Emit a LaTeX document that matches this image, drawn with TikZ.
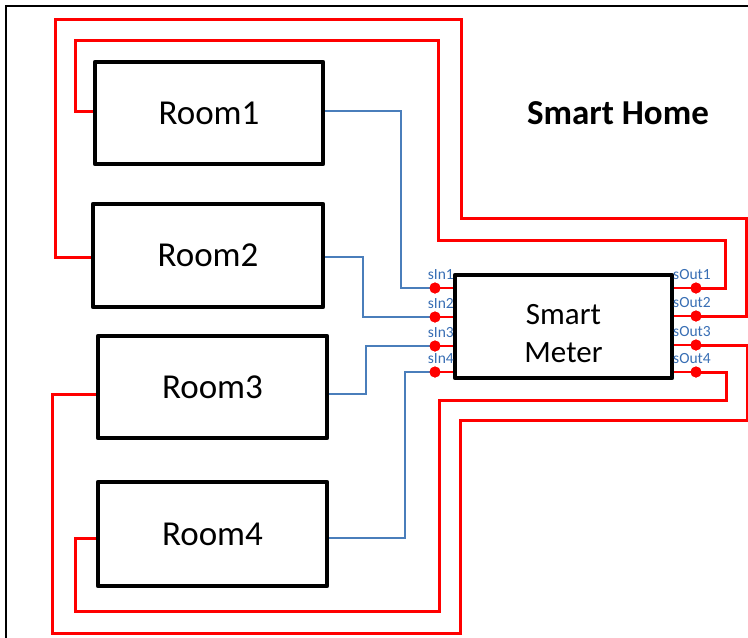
\documentclass[tikz,border=0pt]{standalone}
\usepackage{fontspec}
\setmainfont{Carlito}
\definecolor{wirered}{RGB}{255,0,0}
\definecolor{wireblue}{RGB}{74,126,187}
\definecolor{lblblue}{RGB}{56,110,180}
\begin{document}
\begin{tikzpicture}[x=1pt,y=-1pt,
  roombox/.style={draw=black, line width=4.6pt, fill=white, line join=round,
    minimum width=229pt, minimum height=102pt, inner sep=0pt,
    font=\fontsize{35}{40}\selectfont},
  meterbox/.style={draw=black, line width=4.6pt, fill=white, line join=round,
    minimum width=217pt, minimum height=103pt, inner sep=0pt},
  redw/.style={draw=wirered, line width=3pt},
  bluew/.style={draw=wireblue, line width=2.4pt},
  stub/.style={draw=wirered, line width=1.8pt},
  port/.style={circle, fill=wirered, inner sep=0pt, minimum size=11pt},
  portlbl/.style={text=lblblue, inner sep=0pt, font=\fontsize{15.5}{17}\selectfont},
]
\useasboundingbox (0,0) rectangle (748,638);
\begin{scope}
  \clip (0,0) rectangle (748,638);
  % house outline
  \draw[line width=2.4pt] (6,6) rectangle (800,700);
\end{scope}

% rooms
\node[roombox, minimum width=228pt] (r1) at (209,113) {Room1};
\node[roombox, minimum width=230pt, minimum height=103pt] (r2) at (208,255.5) {Room2};
\node[roombox] (r3) at (212.5,387) {Room3};
\node[roombox, minimum height=104pt] (r4) at (212.5,534) {Room4};

% meter and its ports
\node[meterbox] (meter) at (563.5,326.5) {};
\node[align=center, font=\fontsize{31}{38}\selectfont] (metertext) at (563.5,333.5) {Smart\\Meter};
\node[port] (i1) at (435,288) {};
\node[port] (i2) at (435,317) {};
\node[port] (i3) at (435,346) {};
\node[port] (i4) at (435,372) {};
\node[port] (o1) at (696,288) {};
\node[port] (o2) at (696,316) {};
\node[port] (o3) at (696,345) {};
\node[port] (o4) at (696,372) {};

% port stubs
\foreach \p in {i1,i2,i3,i4}
  \draw[stub] (\p.center) -- (\p.center -| meter.west);
\foreach \p in {o1,o2,o3,o4}
  \draw[stub] (meter.east |- \p.center) -- (\p.center);

% room inputs to the meter
\draw[bluew] ([yshift=2pt]r1.east) -- (401,111) -- (401,288) -- (i1.center);
\draw[bluew] ([yshift=-1.5pt]r2.east) -- (363,257) -- (363,317) -- (i2.center);
\draw[bluew] ([yshift=-7pt]r3.east) -- (366,394) -- (366,346) -- (i3.center);
\draw[bluew] ([yshift=-4pt]r4.east) -- (405,538) -- (405,372) -- (i4.center);

% meter outputs back to the rooms
\draw[redw] ([yshift=2pt]r1.west) -- (75,111) -- (75,40) -- (438,40)
  -- (438,240) -- (725,240) -- (725,288) -- (o1.center);
\draw[redw] ([yshift=-1.5pt]r2.west) -- (55,257) -- (55,19) -- (461,19)
  -- (461,218) -- (746,218) -- (746,316) -- (o2.center);
\draw[redw] ([yshift=-7pt]r3.west) -- (52,394) -- (52,633) -- (460,633)
  -- (460,420) -- (747,420) -- (747,345) -- (o3.center);
\draw[redw] ([yshift=-4pt]r4.west) -- (75,538) -- (75,611) -- (439,611)
  -- (439,400) -- (726,400) -- (726,372) -- (o4.center);

% dots on top of the wires
\foreach \p in {i1,i2,i3,i4,o1,o2,o3,o4}
  \fill[wirered] (\p.center) circle (5.5pt);

% port labels
\node[portlbl, anchor=base east] (li1) at ([xshift=19pt,yshift=9pt]i1.center) {sIn1};
\node[portlbl, anchor=base east] (li2) at ([xshift=19pt,yshift=9pt]i2.center) {sIn2};
\node[portlbl, anchor=base east] (li3) at ([xshift=19pt,yshift=9pt]i3.center) {sIn3};
\node[portlbl, anchor=base east] (li4) at ([xshift=19pt,yshift=9pt]i4.center) {sIn4};
\node[portlbl, anchor=base west] (lo1) at ([xshift=-23pt,yshift=9pt]o1.center) {sOut1};
\node[portlbl, anchor=base west] (lo2) at ([xshift=-23pt,yshift=9pt]o2.center) {sOut2};
\node[portlbl, anchor=base west] (lo3) at ([xshift=-23pt,yshift=9pt]o3.center) {sOut3};
\node[portlbl, anchor=base west] (lo4) at ([xshift=-23pt,yshift=9pt]o4.center) {sOut4};

% title
\node[font=\bfseries\fontsize{35}{40}\selectfont] (title) at (618,113) {Smart Home};
\end{tikzpicture}
\end{document}
